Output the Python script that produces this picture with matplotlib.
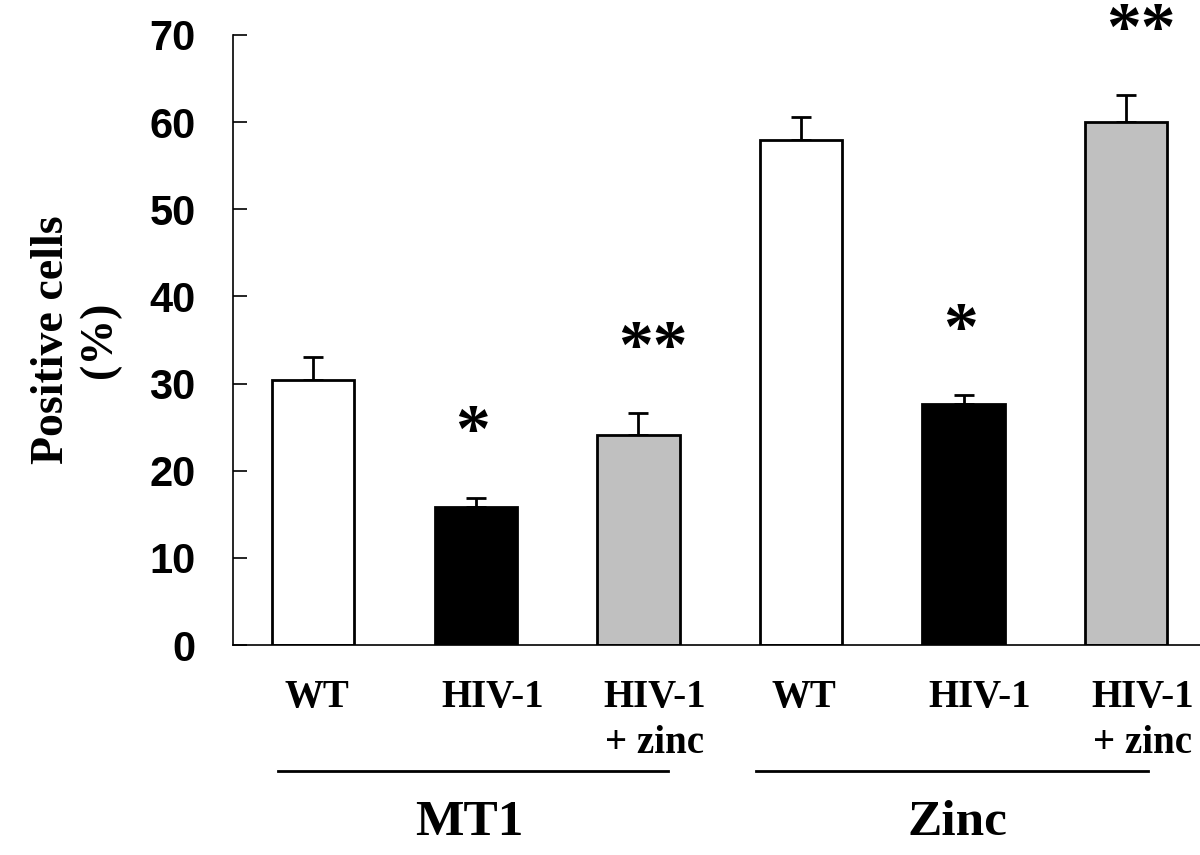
# Positive cells (%) bar chart, MT1 / Zinc groups
import matplotlib
matplotlib.use('Agg')
import matplotlib.pyplot as plt
from matplotlib.transforms import blended_transform_factory

labels_top = ["WT", "HIV-1", "HIV-1", "WT", "HIV-1", "HIV-1"]
labels_bottom = ["", "", "+ zinc", "", "", "+ zinc"]
values = [30.4, 15.8, 24.1, 58.0, 27.7, 60.0]
errors = [2.6, 1.1, 2.5, 2.6, 1.0, 3.1]
stars = ["", "*", "**", "", "*", "**"]
bar_colors = ["white", "black", "#c0c0c0", "white", "black", "#c0c0c0"]
groups = ["MT1", "Zinc"]
group_bars = [(0, 2), (3, 5)]
yticks = [0, 10, 20, 30, 40, 50, 60, 70]

SERIF = "Liberation Serif"
SANS = "Liberation Sans"
W, H = 1200, 855

fig = plt.figure(figsize=(12, 8.55), dpi=100)
ax = fig.add_axes([233 / W, 1 - 645 / H, 1 - 233 / W, (645 - 35) / H])

x = list(range(len(values)))
ax.bar(x, values, width=0.505, color=bar_colors, edgecolor="black", linewidth=2, zorder=2)
ax.errorbar(x, values, yerr=[[0] * len(errors), errors], fmt="none",
            ecolor="black", elinewidth=2, capsize=7, capthick=2, zorder=1)

ax.set_xlim(-0.495, 5.455)
ax.set_ylim(0, 70)
ax.set_yticks(yticks)
ax.set_xticks([])
ax.tick_params(axis="y", direction="in", length=10, width=1.2, pad=27)
for lab in ax.get_yticklabels():
    lab.set_fontfamily(SANS)
    lab.set_fontweight("bold")
    lab.set_fontsize(30)

for side in ["top", "right"]:
    ax.spines[side].set_visible(False)
ax.spines["left"].set_linewidth(1.2)
ax.spines["bottom"].set_linewidth(1.2)

# significance stars
for i, s in enumerate(stars):
    if s:
        dx = 0.09 if len(s) > 1 else -0.02
        ax.text(i + dx, values[i] + errors[i] + 5.2, s, ha="center", va="baseline",
                fontsize=50, fontfamily=SERIF, fontweight="bold", clip_on=False)

# category labels under the axis
trans = blended_transform_factory(ax.transData, fig.transFigure)
for i in x:
    dx = 0.02 if labels_top[i] == "WT" else 0.1
    ax.text(i + dx, 1 - 707 / H, labels_top[i], transform=trans, ha="center", va="baseline",
            fontsize=28, fontfamily=SERIF, fontweight="bold")
    if labels_bottom[i]:
        ax.text(i + dx, 1 - 753 / H, labels_bottom[i], transform=trans, ha="center",
                va="baseline", fontsize=28, fontfamily=SERIF, fontweight="bold")

# group lines and names
spans = [(-0.22, 0.18), (-0.28, 0.135)]
for name, (a, b), (s0, s1) in zip(groups, group_bars, spans):
    ax.plot([a + s0, b + s1], [1 - 771 / H] * 2, transform=trans, color="black",
            lw=2, clip_on=False)
    ax.text((a + b) / 2 - 0.04, 1 - 835 / H, name, transform=trans, ha="center",
            va="baseline", fontsize=37, fontfamily=SERIF, fontweight="bold")

fig.text(76 / W, 1 - 340 / H, "Positive cells\n(%)", rotation=90, ha="center", va="center",
         multialignment="center", linespacing=1.2, fontsize=33, fontfamily=SERIF,
         fontweight="bold")

fig.savefig("out.png", dpi=100)
